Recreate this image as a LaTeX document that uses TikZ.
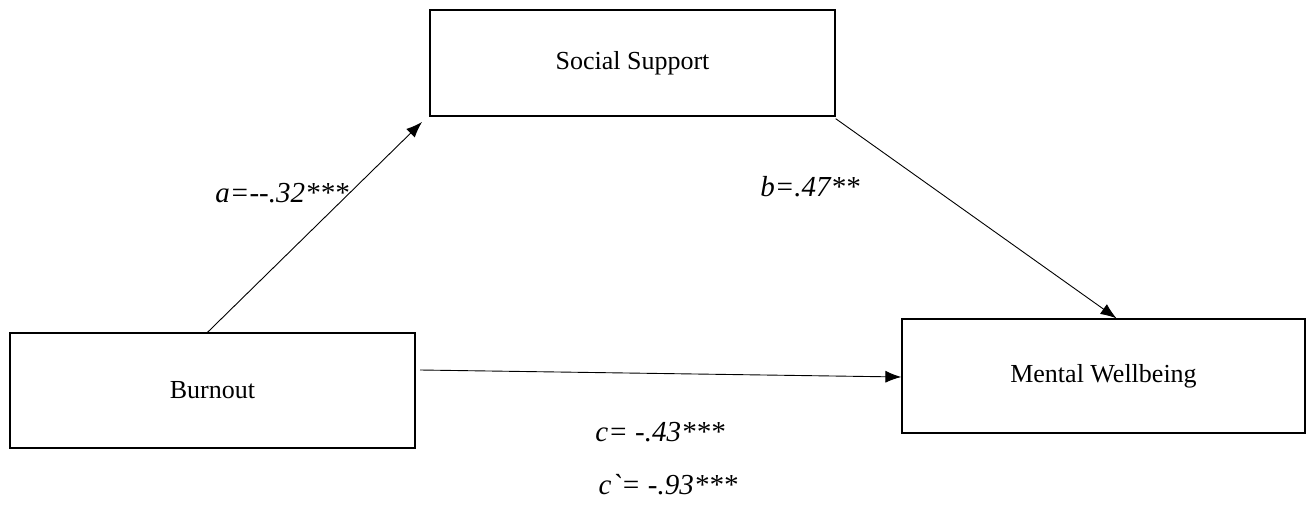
\documentclass[tikz,border=0pt]{standalone}
\usepackage{fontspec}
\setmainfont{Liberation Serif}
\usetikzlibrary{arrows.meta,calc}
\begin{document}
\begin{tikzpicture}[x=1pt,y=-1pt,
  varbox/.style={draw, line width=1.3pt, inner sep=0pt, font=\fontsize{26}{30}\selectfont},
  path/.style={line width=0.9pt, -{Latex[length=16pt,width=12pt]}},
  lab/.style={font=\fontsize{29}{34}\selectfont\itshape, inner sep=0pt}]
\useasboundingbox (0,0) rectangle (1311,505);
\node[varbox, minimum width=405pt, minimum height=106pt] (ss) at (632.5,63) {Social Support};
\node[varbox, minimum width=405pt, minimum height=115pt] (bo) at (212.5,390.5) {Burnout};
\node[varbox, minimum width=403pt, minimum height=114pt] (mw) at (1103.5,376) {Mental Wellbeing};
\coordinate (aend) at (422,122);
\coordinate (cstart) at (420,370);
\draw[path] ($(bo.north)+(-5,0)$) -- (aend);
\draw[path] ($(ss.south east)+(0,2)$) -- ($(mw.north)+(13,0)$);
\draw[path] (cstart) -- (mw.west |- 0,377);
\node[lab] (la) at (282,193) {a={-}{-}.32***};
\node[lab] (lb) at (810,187) {b=.47**};
\node[lab] (lc) at (660,432) {c= -.43***};
\node[lab] (lc2) at (668,485) {c\textasciigrave= -.93***};
\end{tikzpicture}
\end{document}
